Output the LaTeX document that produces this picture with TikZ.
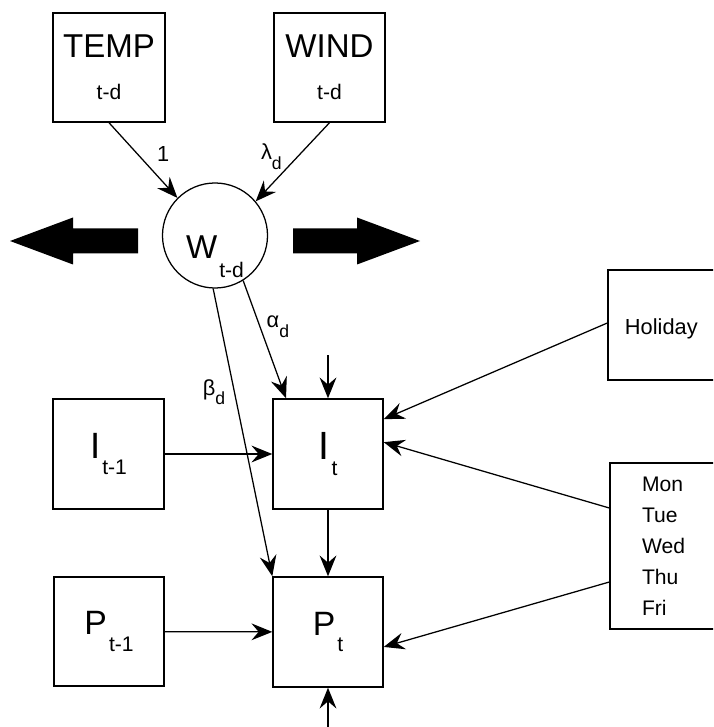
\documentclass[tikz,border=0pt]{standalone}
\usepackage{fontspec}
\setmainfont{Liberation Sans}
\usetikzlibrary{positioning, arrows.meta, calc}

\newcommand{\subtxt}[3][12pt]{#2\kern1.5pt\raisebox{-#1}{\fontsize{15pt}{16pt}\selectfont #3}}
\newcommand{\coef}[2]{#1\raisebox{-7pt}{\fontsize{12.5pt}{13pt}\selectfont #2}}

\begin{document}
\begin{tikzpicture}[
			x=0.025cm, y=-0.025cm,
			box/.style={rectangle, draw, line width=1pt, inner sep=0pt},
			var/.style={circle, draw, line width=0.9pt, minimum size=2.625cm},
			arrow/.style={-{Stealth[length=0.52cm, width=0.42cm, inset=0.18cm]}, line width=0.9pt},
			weight/.style={inner sep=1pt, font=\fontsize{15.5pt}{17pt}\selectfont},
			bigarrow/.style={fill=black}
			]
			\useasboundingbox (0,0) rectangle (713,727);
			\clip (0,0) rectangle (713,727);
			
			% Weather inputs
			\node[box, minimum width=2.8cm, minimum height=2.725cm, align=center, font=\fontsize{23.5pt}{30pt}\selectfont] (temp) at (109,67.5) {TEMP\\{\fontsize{15pt}{18pt}\selectfont t-d}};
			\node[box, minimum width=2.775cm, minimum height=2.725cm, align=center, font=\fontsize{23.5pt}{30pt}\selectfont] (wind) at (329.5,67.5) {WIND\\{\fontsize{15pt}{18pt}\selectfont t-d}};
			
			% Weather index
			\node[var, label={[yshift=-0.525cm, font=\fontsize{23.5pt}{25pt}\selectfont]center:{\subtxt[13.5pt]{W}{t-d}}}] (w_td) at (215,235.5) {};
			
			% Previous day
			\node[box, minimum width=2.775cm, minimum height=2.75cm, font=\fontsize{26pt}{28pt}\selectfont] (i_prev) at (108.5,454) {\subtxt{I}{t-1}};
			\node[box, minimum width=2.75cm, minimum height=2.725cm, font=\fontsize{24pt}{26pt}\selectfont] (p_prev) at (109,631.5) {\subtxt{P}{t-1}};
			
			% Current day
			\node[box, minimum width=2.75cm, minimum height=2.75cm, font=\fontsize{28pt}{30pt}\selectfont] (i_curr) at (328,454) {\subtxt{I}{t}};
			\node[box, minimum width=2.75cm, minimum height=2.75cm, font=\fontsize{24pt}{26pt}\selectfont] (p_curr) at (328,632) {\subtxt{P}{t}};
			
			% Calendar inputs
			\node[box, minimum width=3.8cm, minimum height=2.75cm, text width=2.95cm, inner xsep=0.425cm, align=left, text height=14.2pt, text depth=0pt, font=\fontsize{15.5pt}{18pt}\selectfont] (holiday) at (684,325) {Holiday};
			\node[box, minimum width=3.75cm, minimum height=4.15cm, text width=2.15cm, inner xsep=0.8cm, align=left, font=\fontsize{15pt}{22pt}\selectfont] (days) at (685,546) {Mon\\Tue\\Wed\\Thu\\Fri};
			
			% Free ends
			\coordinate (i_in) at (328,355);
			\coordinate (p_in) at (328,740);
			
			% Connections
			\draw[arrow] (temp.south) -- node[weight, pos=0.41, right=0.45cm] {1} (w_td.135);
			\draw[arrow] (wind.south) -- node[weight, pos=0.43, left=0.35cm] {\coef{λ}{d}} (w_td.40);
			\draw[arrow] (w_td.302) -- node[weight, pos=0.39, right=0.12cm] {\coef{α}{d}} (i_curr.127);
			\draw[arrow] (w_td.268) -- node[weight, pos=0.36, left=0.18cm] {\coef{β}{d}} (p_curr.north west);
			
			\draw[arrow] (i_prev) -- (i_curr);
			\draw[arrow] (p_prev) -- (p_curr);
			\draw[arrow] (i_curr) -- (p_curr);
			\draw[arrow] (i_in) -- (i_curr);
			\draw[arrow] (p_in) -- (p_curr);
			
			\draw[arrow] ([yshift=0.05cm]holiday.west) -- (i_curr.32);
			\draw[arrow] ([yshift=0.95cm]days.west) -- (i_curr.12);
			\draw[arrow] ([yshift=-0.9cm]days.west) -- (p_curr.-15);
			
			% Big arrows
			\fill[bigarrow] (138,228.5) -- (73,228.5) -- (73,217.5) -- (10,241) -- (73,264.5) -- (73,253.5) -- (138,253.5) -- cycle;
			\fill[bigarrow] (293,228.5) -- (357,228.5) -- (357,217.5) -- (420,241) -- (357,264.5) -- (357,253.5) -- (293,253.5) -- cycle;
			
		\end{tikzpicture}
\end{document}
